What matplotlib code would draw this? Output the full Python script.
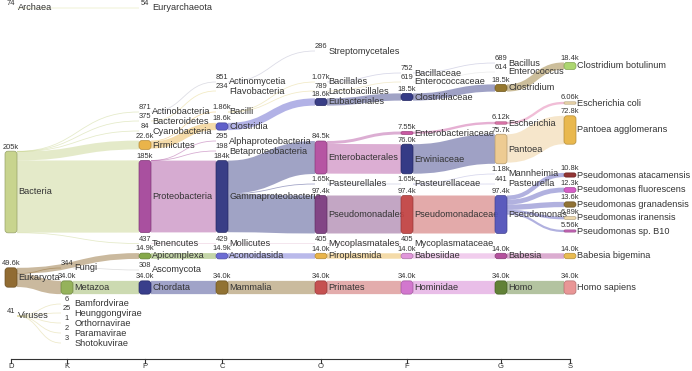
import matplotlib.pyplot as plt
from matplotlib.patches import FancyBboxPatch, PathPatch
from matplotlib.path import Path
import matplotlib.colors as mcolors

plt.rcParams['font.family'] = ['Liberation Sans', 'DejaVu Sans']

# ---- data: taxa per rank (name, parent, reads) ----
ranks = ['D', 'K', 'P', 'C', 'O', 'F', 'G', 'S']

d_names = ['Archaea', 'Bacteria', 'Eukaryota', 'Viruses']
d_parents = [None, None, None, None]
d_reads = [74, 205000, 49600, 41]

k_names = ['Fungi', 'Metazoa', 'Bamfordvirae', 'Heunggongvirae', 'Orthornavirae',
           'Paramavirae', 'Shotokuvirae']
k_parents = ['Eukaryota', 'Eukaryota', 'Viruses', 'Viruses', 'Viruses', 'Viruses', 'Viruses']
k_reads = [344, 34000, 6, 25, 1, 2, 3]

p_names = ['Euryarchaeota', 'Actinobacteria', 'Bacteroidetes', 'Cyanobacteria', 'Firmicutes',
           'Proteobacteria', 'Tenencutes', 'Apicomplexa', 'Ascomycota', 'Chordata']
p_parents = ['Archaea', 'Bacteria', 'Bacteria', 'Bacteria', 'Bacteria', 'Bacteria', 'Bacteria',
             'Eukaryota', 'Fungi', 'Metazoa']
p_reads = [54, 871, 375, 84, 22600, 185000, 437, 14900, 308, 34000]

c_names = ['Actinomycetia', 'Flavobacteria', 'Bacilli', 'Clostridia', 'Alphaproteobacteria',
           'Betaproteobacteria', 'Gammaproteobacteria', 'Mollicutes', 'Aconoidasida', 'Mammalia']
c_parents = ['Actinobacteria', 'Bacteroidetes', 'Firmicutes', 'Firmicutes', 'Proteobacteria',
             'Proteobacteria', 'Proteobacteria', 'Tenencutes', 'Apicomplexa', 'Chordata']
c_reads = [851, 234, 1860, 18600, 295, 198, 184000, 429, 14900, 34000]

o_names = ['Streptomycetales', 'Bacillales', 'Lactobacillales', 'Eubacteriales', 'Enterobacterales',
           'Pasteurellales', 'Pseudomonadales', 'Mycoplasmatales', 'Piroplasmida', 'Primates']
o_parents = ['Actinomycetia', 'Bacilli', 'Bacilli', 'Clostridia', 'Gammaproteobacteria',
             'Gammaproteobacteria', 'Gammaproteobacteria', 'Mollicutes', 'Aconoidasida', 'Mammalia']
o_reads = [286, 1070, 789, 18600, 84500, 1650, 97400, 405, 14000, 34000]

f_names = ['Bacillaceae', 'Enterococcaceae', 'Clostridiaceae', 'Enterobacteriaceae', 'Erwiniaceae',
           'Pasteurellaceae', 'Pseudomonadaceae', 'Mycoplasmataceae', 'Babesiidae', 'Hominidae']
f_parents = ['Bacillales', 'Lactobacillales', 'Eubacteriales', 'Enterobacterales', 'Enterobacterales',
             'Pasteurellales', 'Pseudomonadales', 'Mycoplasmatales', 'Piroplasmida', 'Primates']
f_reads = [752, 619, 18500, 7550, 76000, 1650, 97400, 405, 14000, 34000]

g_names = ['Bacillus', 'Enterococcus', 'Clostridium', 'Escherichia', 'Pantoea', 'Mannheimia',
           'Pasteurella', 'Pseudomonas', 'Babesia', 'Homo']
g_parents = ['Bacillaceae', 'Enterococcaceae', 'Clostridiaceae', 'Enterobacteriaceae', 'Erwiniaceae',
             'Pasteurellaceae', 'Pasteurellaceae', 'Pseudomonadaceae', 'Babesiidae', 'Hominidae']
g_reads = [689, 614, 18500, 6120, 75700, 1180, 441, 97400, 14000, 34000]

s_names = ['Clostridium botulinum', 'Escherichia coli', 'Pantoea agglomerans',
           'Pseudomonas atacamensis', 'Pseudomonas fluorescens', 'Pseudomonas granadensis',
           'Pseudomonas iranensis', 'Pseudomonas sp. B10', 'Babesia bigemina', 'Homo sapiens']
s_parents = ['Clostridium', 'Escherichia', 'Pantoea', 'Pseudomonas', 'Pseudomonas', 'Pseudomonas',
             'Pseudomonas', 'Pseudomonas', 'Babesia', 'Homo']
s_reads = [18400, 6060, 72800, 10800, 12300, 13600, 6890, 5560, 14000, 34000]

# ---- layout (pixel space) ----
col_x = dict(zip(ranks, [11, 67, 145, 222, 321, 407, 501, 570]))
node_y = {
    'Archaea': 8, 'Bacteria': 192, 'Eukaryota': 277.5, 'Viruses': 316,
    'Fungi': 268, 'Metazoa': 287.5, 'Bamfordvirae': 304, 'Heunggongvirae': 313,
    'Orthornavirae': 323, 'Paramavirae': 333, 'Shotokuvirae': 343,
    'Euryarchaeota': 8, 'Actinobacteria': 112, 'Bacteroidetes': 121, 'Cyanobacteria': 131,
    'Firmicutes': 145, 'Proteobacteria': 196.5, 'Tenencutes': 243.5, 'Apicomplexa': 256,
    'Ascomycota': 270, 'Chordata': 287.5,
    'Actinomycetia': 82, 'Flavobacteria': 91, 'Bacilli': 112, 'Clostridia': 126.5,
    'Alphaproteobacteria': 141, 'Betaproteobacteria': 151, 'Gammaproteobacteria': 196.5,
    'Mollicutes': 243.5, 'Aconoidasida': 256, 'Mammalia': 287.5,
    'Streptomycetales': 51, 'Bacillales': 82, 'Lactobacillales': 91, 'Eubacteriales': 102,
    'Enterobacterales': 157.5, 'Pasteurellales': 184, 'Pseudomonadales': 214.5,
    'Mycoplasmatales': 243.5, 'Piroplasmida': 256, 'Primates': 287.5,
    'Bacillaceae': 73, 'Enterococcaceae': 82, 'Clostridiaceae': 97, 'Enterobacteriaceae': 133,
    'Erwiniaceae': 159, 'Pasteurellaceae': 184, 'Pseudomonadaceae': 214.5,
    'Mycoplasmataceae': 243.5, 'Babesiidae': 256, 'Hominidae': 287.5,
    'Bacillus': 63, 'Enterococcus': 72, 'Clostridium': 88, 'Escherichia': 123, 'Pantoea': 149,
    'Mannheimia': 174, 'Pasteurella': 184, 'Pseudomonas': 214.5, 'Babesia': 256, 'Homo': 287.5,
    'Clostridium botulinum': 66, 'Escherichia coli': 103, 'Pantoea agglomerans': 130,
    'Pseudomonas atacamensis': 175, 'Pseudomonas fluorescens': 190,
    'Pseudomonas granadensis': 204.5, 'Pseudomonas iranensis': 218, 'Pseudomonas sp. B10': 231,
    'Babesia bigemina': 256, 'Homo sapiens': 287.5,
}

node_color = {
    'Archaea': '#d6d98e', 'Bacteria': '#c5d288', 'Eukaryota': '#8b6428', 'Viruses': '#d9d08a',
    'Fungi': '#b8b8b8', 'Metazoa': '#8fae52', 'Bamfordvirae': '#d9d08a', 'Heunggongvirae': '#d9d08a',
    'Orthornavirae': '#d9d08a', 'Paramavirae': '#d9d08a', 'Shotokuvirae': '#d9d08a',
    'Euryarchaeota': '#c8c8c8', 'Actinobacteria': '#b4b4c4', 'Bacteroidetes': '#e4d27c',
    'Cyanobacteria': '#c8c8c8', 'Firmicutes': '#e9b040', 'Proteobacteria': '#a5469a',
    'Tenencutes': '#e2b4cc', 'Apicomplexa': '#7ea33e', 'Ascomycota': '#c0c0c0', 'Chordata': '#2e3385',
    'Actinomycetia': '#b0b0c8', 'Flavobacteria': '#d8d8d8', 'Bacilli': '#e2d284', 'Clostridia': '#5656c8',
    'Alphaproteobacteria': '#d0a8cc', 'Betaproteobacteria': '#c8c8c8', 'Gammaproteobacteria': '#2e3380',
    'Mollicutes': '#e2bcd2', 'Aconoidasida': '#6464d2', 'Mammalia': '#8b6a28',
    'Streptomycetales': '#c8c8c8', 'Bacillales': '#a8a8cc', 'Lactobacillales': '#e2d290',
    'Eubacteriales': '#2e3380', 'Enterobacterales': '#b24c9e', 'Pasteurellales': '#a0a4c8',
    'Pseudomonadales': '#7b3b7e', 'Mycoplasmatales': '#e2c0d2', 'Piroplasmida': '#e8b040',
    'Primates': '#c24848',
    'Bacillaceae': '#a8a8cc', 'Enterococcaceae': '#d8d8d8', 'Clostridiaceae': '#2a3080',
    'Enterobacteriaceae': '#c8509e', 'Erwiniaceae': '#2a3080', 'Pasteurellaceae': '#a8a8d8',
    'Pseudomonadaceae': '#c24444', 'Mycoplasmataceae': '#d0d0d0', 'Babesiidae': '#e092d8',
    'Hominidae': '#d070cc',
    'Bacillus': '#c8c8c8', 'Enterococcus': '#d8d8d8', 'Clostridium': '#8f7022', 'Escherichia': '#e070a8',
    'Pantoea': '#edc98c', 'Mannheimia': '#c8c8c8', 'Pasteurella': '#c8c8c8', 'Pseudomonas': '#5252ba',
    'Babesia': '#b04898', 'Homo': '#587a2c',
    'Clostridium botulinum': '#a8d468', 'Escherichia coli': '#edd5a8', 'Pantoea agglomerans': '#e8b444',
    'Pseudomonas atacamensis': '#8c2a2a', 'Pseudomonas fluorescens': '#d454c4',
    'Pseudomonas granadensis': '#8a6a2a', 'Pseudomonas iranensis': '#edd6a8',
    'Pseudomonas sp. B10': '#c460b4', 'Babesia bigemina': '#e8b848', 'Homo sapiens': '#e89090',
}

NODE_W = 12
PX_PER_READ = 80 / 205000
TEXT = '#333333'


def fmt(v):
    if v < 1000:
        return str(v)
    return f"{v / 1000:#.3g}".rstrip('.') + 'k'


# collect nodes
levels = [(d_names, d_parents, d_reads), (k_names, k_parents, k_reads),
          (p_names, p_parents, p_reads), (c_names, c_parents, c_reads),
          (o_names, o_parents, o_reads), (f_names, f_parents, f_reads),
          (g_names, g_parents, g_reads), (s_names, s_parents, s_reads)]
nodes = {}
for col, (rank, (names, parents, reads)) in enumerate(zip(ranks, levels)):
    for n, p, r in zip(names, parents, reads):
        nodes[n] = dict(rank=rank, col=col, parent=p, reads=r, kids=[])
for n, nd in nodes.items():
    if nd['parent']:
        nodes[nd['parent']]['kids'].append(n)
for n, nd in nodes.items():
    total = max(nd['reads'], sum(nodes[k]['reads'] for k in nd['kids']))
    nd['h'] = total * PX_PER_READ
    nd['top'] = node_y[n] - nd['h'] / 2
    nd['x'] = col_x[nd['rank']]

fig = plt.figure(figsize=(6.92, 3.71), dpi=100)
ax = fig.add_axes([0, 0, 1, 1])
ax.set_xlim(0, 692)
ax.set_ylim(371, 0)
ax.axis('off')

# links: stacked from the top of source and target nodes
for n, nd in nodes.items():
    off = 0.0
    for k in sorted(nd['kids'], key=lambda c: node_y[c]):
        kd = nodes[k]
        w = kd['reads'] * PX_PER_READ
        y0 = nd['top'] + off + w / 2
        y1 = kd['top'] + w / 2
        off += w
        x0 = nd['x'] + NODE_W / 2
        x1 = kd['x'] - NODE_W / 2
        xm = (x0 + x1) / 2
        path = Path([(x0, y0), (xm, y0), (xm, y1), (x1, y1)],
                    [Path.MOVETO, Path.CURVE4, Path.CURVE4, Path.CURVE4])
        ax.add_patch(PathPatch(path, fill=False, lw=max(w, 0.8) * 0.72,
                               edgecolor=node_color[n], alpha=0.45,
                               capstyle='butt', zorder=1))

# nodes and labels, later columns drawn on top
for n, nd in nodes.items():
    z = 10 + 2 * nd['col']
    h = nd['h']
    if h > 0.8:
        rs = max(min(3.0, h / 2), 0.05)
        fc = node_color[n]
        ec = [c * 0.75 for c in mcolors.to_rgb(fc)]
        ax.add_patch(FancyBboxPatch((nd['x'] - NODE_W / 2, nd['top']), NODE_W, h,
                                    boxstyle=f"round,pad=0,rounding_size={rs}",
                                    facecolor=fc, edgecolor=ec, lw=0.5, alpha=0.95, zorder=z))
    ax.text(nd['x'], nd['top'] - 0.6, fmt(nd['reads']), fontsize=5.4, ha='center',
            va='bottom', color=TEXT, zorder=z + 1)
    ax.text(nd['x'] + NODE_W / 2 + 1.2, node_y[n], n, fontsize=6.6, ha='left',
            va='center', color=TEXT, zorder=z + 1)

# rank axis
axis_y = 359
xs = [col_x[r] for r in ranks]
ax.plot([xs[0], xs[-1]], [axis_y, axis_y], color=TEXT, lw=0.8)
for r, x in zip(ranks, xs):
    ax.plot([x, x], [axis_y, axis_y + 4], color=TEXT, lw=0.8)
    ax.text(x, axis_y + 8, r, fontsize=5.5, ha='center', va='center', color=TEXT)

fig.savefig('out.png', dpi=100)
